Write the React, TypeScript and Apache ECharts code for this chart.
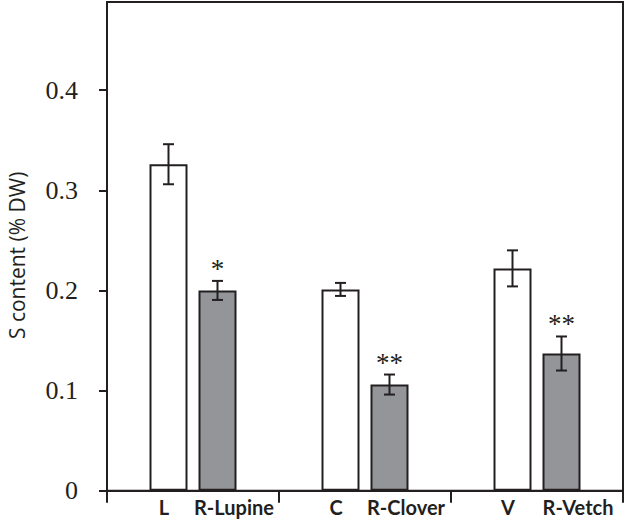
import React, { useEffect, useRef } from "react";
import * as echarts from "echarts";

// ---- data ----
const groups = ["Lupine", "Clover", "Vetch"];
const leftLabels = ["L", "C", "V"];
const rightLabels = ["R-Lupine", "R-Clover", "R-Vetch"];
const controlValues = [0.326, 0.201, 0.222];
const controlErrors = [0.02, 0.0065, 0.018];
const residueValues = [0.2, 0.106, 0.137];
const residueErrors = [0.0095, 0.01, 0.017];
const starLabels = ["*", "**", "**"];
const yTicks = [0, 0.1, 0.2, 0.3, 0.4];
const yLabels = ["0", "0.1", "0.2", "0.3", "0.4"];
const yMax = 0.488;

// ---- styling ----
const INK = "#231f20";
const GREY = "#939598";
const BAR_W = 38;
const BAR_GAP_PX = 11;

export default function App() {
  const ref = useRef<HTMLDivElement>(null);

  useEffect(() => {
    if (!ref.current) return;
    const chart = echarts.init(ref.current, null, { renderer: "svg" });

    const errData: number[][] = [];
    controlValues.forEach((v, i) => errData.push([i, v, controlErrors[i], -1, -1]));
    residueValues.forEach((v, i) => errData.push([i, v, residueErrors[i], 1, i]));

    const option: any = {
      animation: false,
      grid: {
        left: 107,
        right: 3,
        top: 2,
        bottom: 30.3,
        containLabel: false,
        outerBoundsMode: "none",
        show: true,
        borderColor: INK,
        borderWidth: 2,
        backgroundColor: "transparent",
      },
      xAxis: {
        type: "category",
        data: groups,
        axisLine: { lineStyle: { color: INK, width: 2 } },
        axisTick: { show: true, length: 12, lineStyle: { color: INK, width: 2 } },
        axisLabel: {
          margin: 6,
          padding: [0, 0, 0, 32],
          formatter: (_v: string, idx: number) => `{a|${leftLabels[idx]}}{b|${rightLabels[idx]}}`,
          rich: {
            a: {
              width: 50,
              align: "center",
              fontFamily: "Lato",
              fontWeight: "bold",
              fontSize: 20,
              color: INK,
            },
            b: {
              width: 90,
              align: "left",
              fontFamily: "Lato",
              fontWeight: "bold",
              fontSize: 20,
              color: INK,
            },
          },
        },
      },
      yAxis: {
        type: "value",
        min: 0,
        max: yMax,
        name: "S content (% DW)",
        nameLocation: "middle",
        nameGap: 80,
        nameRotate: 90,
        nameTextStyle: {
          fontFamily: "Open Sans",
          fontSize: 21,
          color: INK,
          padding: [0, 18, 0, 0],
        },
        splitLine: { show: false },
        axisLine: { show: true, lineStyle: { color: INK, width: 2 } },
        axisTick: {
          show: true,
          length: 8,
          customValues: yTicks,
          lineStyle: { color: INK, width: 2 },
        },
        axisLabel: {
          customValues: yTicks,
          margin: 29,
          fontFamily: "Liberation Serif",
          fontSize: 26,
          color: INK,
          formatter: (v: number) => {
            const k = yTicks.findIndex((t) => Math.abs(t - v) < 1e-9);
            return k >= 0 ? yLabels[k] : "";
          },
        },
      },
      series: [
        {
          type: "bar",
          name: "control",
          data: controlValues,
          barWidth: BAR_W,
          barGap: `${(BAR_GAP_PX / BAR_W) * 100}%`,
          itemStyle: { color: "#ffffff", borderColor: INK, borderWidth: 2 },
        },
        {
          type: "bar",
          name: "residue",
          data: residueValues,
          barWidth: BAR_W,
          itemStyle: { color: GREY, borderColor: INK, borderWidth: 2 },
        },
        {
          type: "custom",
          name: "error",
          data: errData,
          encode: { x: 0, y: 1 },
          z: 10,
          renderItem: (_params: any, api: any) => {
            const i = api.value(0);
            const mean = api.value(1);
            const err = api.value(2);
            const side = api.value(3);
            const starIdx = api.value(4);
            const top = api.coord([i, mean + err]);
            const bot = api.coord([i, mean - err]);
            const x = top[0] + (side * (BAR_W + BAR_GAP_PX)) / 2;
            const cap = 5.5;
            const ls = { stroke: INK, lineWidth: 2 };
            const children: any[] = [
              { type: "line", shape: { x1: x, y1: top[1], x2: x, y2: bot[1] }, style: ls },
              { type: "line", shape: { x1: x - cap, y1: top[1], x2: x + cap, y2: top[1] }, style: ls },
              { type: "line", shape: { x1: x - cap, y1: bot[1], x2: x + cap, y2: bot[1] }, style: ls },
            ];
            if (starIdx >= 0) {
              children.push({
                type: "text",
                x: x,
                y: top[1] - 12,
                style: {
                  text: starLabels[starIdx],
                  fontFamily: "Liberation Serif",
                  fontSize: 27,
                  fill: INK,
                  align: "center",
                  verticalAlign: "middle",
                },
              });
            }
            return { type: "group", children };
          },
        },
      ],
    };

    chart.setOption(option);
    return () => chart.dispose();
  }, []);

  return <div ref={ref} style={{ width: 626, height: 521, position: "absolute", left: 0, top: 0 }} />;
}
